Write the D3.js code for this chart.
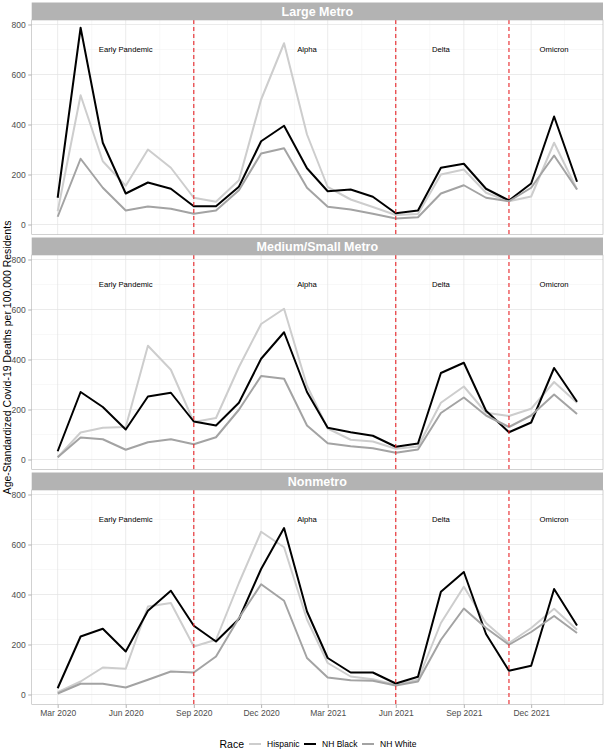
<!DOCTYPE html>
<html>
<head>
<meta charset="utf-8">
<script src="https://cdn.jsdelivr.net/npm/d3@7"></script>
<style>
  body { margin: 0; background: #fff; }
  svg { font-family: "Liberation Sans", Arial, sans-serif; }
</style>
</head>
<body>
<div id="chart"></div>
<script>
// monthly points, Mar 2020 .. Feb 2022
const months = ["2020-03","2020-04","2020-05","2020-06","2020-07","2020-08","2020-09","2020-10","2020-11","2020-12",
  "2021-01","2021-02","2021-03","2021-04","2021-05","2021-06","2021-07","2021-08","2021-09","2021-10","2021-11","2021-12",
  "2022-01","2022-02"];
const regions = ["Large Metro", "Medium/Small Metro", "Nonmetro"];
const races = ["Hispanic", "NH Black", "NH White"];

const largeHispanic = [53, 517, 253, 155, 300, 227, 107, 91, 177, 500, 725, 360, 150, 100, 70, 38, 42, 200, 220, 127, 93, 112, 327, 140];
const largeBlack    = [107, 787, 327, 124, 168, 143, 73, 73, 151, 333, 395, 225, 133, 140, 111, 45, 56, 227, 243, 143, 96, 164, 432, 171];
const largeWhite    = [31, 263, 147, 56, 72, 63, 43, 56, 137, 284, 305, 147, 71, 60, 43, 24, 29, 124, 157, 107, 93, 147, 276, 140];

const medHispanic = [9, 108, 127, 130, 455, 359, 150, 166, 370, 542, 603, 295, 124, 79, 72, 43, 52, 227, 292, 187, 174, 203, 310, 227];
const medBlack    = [33, 270, 210, 120, 252, 267, 152, 136, 227, 403, 509, 270, 127, 109, 95, 51, 64, 346, 387, 195, 109, 148, 366, 231];
const medWhite    = [9, 88, 81, 39, 69, 81, 61, 89, 199, 334, 323, 136, 65, 53, 45, 27, 40, 186, 248, 176, 130, 176, 260, 182];

const nonHispanic = [9, 52, 108, 103, 352, 366, 192, 219, 446, 651, 589, 300, 126, 72, 61, 39, 59, 286, 431, 286, 206, 266, 343, 259];
const nonBlack    = [25, 232, 263, 172, 335, 415, 275, 212, 302, 502, 666, 332, 146, 88, 88, 44, 71, 411, 490, 242, 95, 115, 422, 276];
const nonWhite    = [4, 43, 43, 28, 59, 92, 88, 152, 306, 441, 375, 146, 68, 57, 55, 36, 52, 219, 344, 266, 199, 250, 314, 246];

const seriesByRegion = [
  [largeHispanic, largeBlack, largeWhite],
  [medHispanic, medBlack, medWhite],
  [nonHispanic, nonBlack, nonWhite]
];

const tickLabels = ["Mar 2020","Jun 2020","Sep 2020","Dec 2020","Mar 2021","Jun 2021","Sep 2021","Dec 2021"];
const yTicks = [0, 200, 400, 600, 800];
const variantStarts = ["2020-09","2021-06","2021-11"];
const variantNames = ["Early Pandemic", "Alpha", "Delta", "Omicron"];
const variantLabelDates = ["2020-06","2021-02","2021-08","2022-01"];

const colors = { "Hispanic": "#cdcdcd", "NH Black": "#000000", "NH White": "#a3a3a3" };

const parse = d3.utcParse("%Y-%m");
const dates = months.map(parse);

const width = 606, height = 750;
const left = 31.7, right = 603;
const stripH = 17.5, plotH = 214.5, gap = 3, top0 = 2.5;

const svg = d3.select("#chart").append("svg")
  .attr("width", width)
  .attr("height", height);

// ggplot style 5% expansion on x
const span = dates[dates.length - 1] - dates[0];
const x = d3.scaleUtc()
  .domain([new Date(+dates[0] - span * 0.05), new Date(+dates[dates.length - 1] + span * 0.05)])
  .range([left, right]);

const majorDates = tickLabels.map(d3.utcParse("%b %Y"));
const minorDates = [];
for (let i = 0; i < majorDates.length; i++) {
  const a = majorDates[i], b = i + 1 < majorDates.length ? majorDates[i + 1] : d3.utcMonth.offset(a, 3);
  minorDates.push(new Date((+a + +b) / 2));
}

regions.forEach((region, r) => {
  const stripTop = top0 + r * (stripH + plotH + gap);
  const pTop = stripTop + stripH, pBot = pTop + plotH;

  const y = d3.scaleLinear().domain([-40, 818]).range([pBot, pTop]);
  const g = svg.append("g");

  // strip
  g.append("rect")
    .attr("x", left).attr("y", stripTop)
    .attr("width", right - left).attr("height", stripH)
    .attr("fill", "#b3b3b3");
  g.append("text")
    .attr("x", (left + right) / 2).attr("y", stripTop + stripH / 2)
    .attr("dy", "0.36em")
    .attr("text-anchor", "middle")
    .attr("fill", "#fff")
    .attr("font-weight", "bold")
    .attr("font-size", 12.5)
    .text(region);

  // grid
  g.append("g").selectAll("line")
    .data([100, 300, 500, 700])
    .join("line")
      .attr("x1", left).attr("x2", right)
      .attr("y1", d => y(d)).attr("y2", d => y(d))
      .attr("stroke", "#f0f0f0").attr("stroke-width", 0.5);
  g.append("g").selectAll("line")
    .data(minorDates.filter(d => x(d) > left && x(d) < right))
    .join("line")
      .attr("x1", d => x(d)).attr("x2", d => x(d))
      .attr("y1", pTop).attr("y2", pBot)
      .attr("stroke", "#f0f0f0").attr("stroke-width", 0.5);
  g.append("g").selectAll("line")
    .data(yTicks)
    .join("line")
      .attr("x1", left).attr("x2", right)
      .attr("y1", d => y(d)).attr("y2", d => y(d))
      .attr("stroke", "#e3e3e3").attr("stroke-width", 0.7);
  g.append("g").selectAll("line")
    .data(majorDates)
    .join("line")
      .attr("x1", d => x(d)).attr("x2", d => x(d))
      .attr("y1", pTop).attr("y2", pBot)
      .attr("stroke", "#e3e3e3").attr("stroke-width", 0.7);

  // y axis
  const yAxis = g.append("g")
    .attr("transform", `translate(${left},0)`)
    .call(d3.axisLeft(y).tickValues(yTicks).tickSize(3.5).tickPadding(2.5));
  yAxis.select(".domain").remove();
  yAxis.selectAll("line").attr("stroke", "#b3b3b3");
  yAxis.selectAll("text").attr("fill", "#4d4d4d").attr("font-size", 8.5)
    .attr("font-family", "Liberation Sans, Arial, sans-serif");

  // x axis only on the bottom panel
  if (r === regions.length - 1) {
    const xAxis = g.append("g")
      .attr("transform", `translate(0,${pBot})`)
      .call(d3.axisBottom(x).tickValues(majorDates).tickFormat(d3.utcFormat("%b %Y"))
        .tickSize(3.5).tickPadding(2));
    xAxis.select(".domain").remove();
    xAxis.selectAll("line").attr("stroke", "#b3b3b3");
    xAxis.selectAll("text").attr("fill", "#4d4d4d").attr("font-size", 8.5)
      .attr("font-family", "Liberation Sans, Arial, sans-serif");
  }

  // series lines
  const line = d3.line()
    .x((d, i) => x(dates[i]))
    .y(d => y(d));
  races.forEach((race, k) => {
    g.append("path")
      .datum(seriesByRegion[r][k])
      .attr("fill", "none")
      .attr("stroke", colors[race])
      .attr("stroke-width", 2)
      .attr("stroke-linejoin", "round")
      .attr("d", line);
  });

  // variant boundaries
  g.append("g").selectAll("line")
    .data(variantStarts.map(parse))
    .join("line")
      .attr("x1", d => x(d)).attr("x2", d => x(d))
      .attr("y1", pTop).attr("y2", pBot)
      .attr("stroke", "#e8262a")
      .attr("stroke-width", 1.1)
      .attr("stroke-dasharray", "4,3");

  g.append("g").selectAll("text")
    .data(variantNames)
    .join("text")
      .attr("x", (d, i) => x(parse(variantLabelDates[i])))
      .attr("y", y(700))
      .attr("dy", "0.35em")
      .attr("text-anchor", "middle")
      .attr("font-size", 7.7)
      .attr("fill", "#000")
      .text(d => d);

  // panel border
  g.append("rect")
    .attr("x", left).attr("y", pTop)
    .attr("width", right - left).attr("height", plotH)
    .attr("fill", "none")
    .attr("stroke", "#b3b3b3")
    .attr("stroke-width", 0.6);
});

// y axis title
svg.append("text")
  .attr("transform", `translate(11,${(top0 + 3 * (stripH + plotH) + 2 * gap + top0) / 2 + 4}) rotate(-90)`)
  .attr("text-anchor", "middle")
  .attr("font-size", 10.5)
  .attr("fill", "#000")
  .text("Age-Standardized Covid-19 Deaths per 100,000 Residents");

// legend
const legendY = 744;
const legend = svg.append("g");
legend.append("text")
  .attr("x", 219.5).attr("y", legendY).attr("dy", "0.35em")
  .attr("font-size", 10.5)
  .text("Race");
const keyX = [249, 304, 362];
races.forEach((race, k) => {
  legend.append("line")
    .attr("x1", keyX[k]).attr("x2", keyX[k] + 12)
    .attr("y1", legendY).attr("y2", legendY)
    .attr("stroke", colors[race]).attr("stroke-width", 2);
  legend.append("text")
    .attr("x", keyX[k] + 18).attr("y", legendY).attr("dy", "0.35em")
    .attr("font-size", 8.5)
    .attr("fill", "#000")
    .text(race);
});
</script>
</body>
</html>
